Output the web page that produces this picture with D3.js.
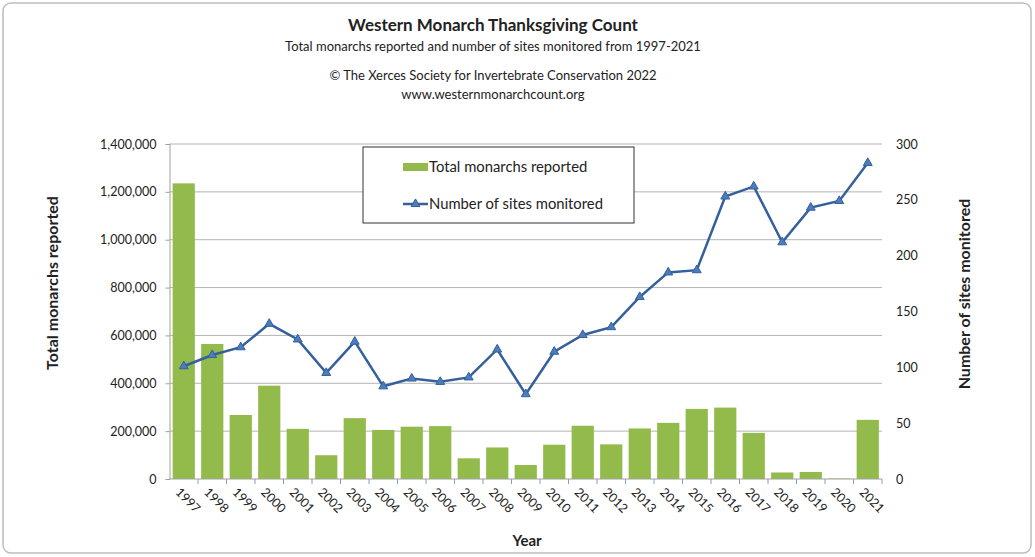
<!DOCTYPE html>
<html>
<head>
<meta charset="utf-8">
<script src="https://cdn.jsdelivr.net/npm/d3@7"></script>
<style>
  body { margin: 0; background: #fff; }
  svg text { font-family: Lato, "Open Sans", sans-serif; fill: #222; }
</style>
</head>
<body>
<svg width="1035" height="557"></svg>
<script>
var years = ['1997','1998','1999','2000','2001','2002','2003','2004','2005','2006','2007','2008','2009',
             '2010','2011','2012','2013','2014','2015','2016','2017','2018','2019','2020','2021'];
var monarchs = [1235490, 564349, 267574, 390057, 209570, 99353, 254378, 205085, 218679, 221058, 86437, 131889, 58468,
                143204, 222525, 144812, 211275, 234731, 292888, 298464, 192624, 27218, 29418, 1914, 247237];
var sites = [101, 111, 118, 139, 125, 95, 123, 83, 90, 87, 91, 116, 76,
             114, 129, 136, 163, 185, 187, 253, 262, 212, 243, 249, 283];
var leftTicks = [0, 200000, 400000, 600000, 800000, 1000000, 1200000, 1400000];
var rightTicks = [0, 50, 100, 150, 200, 250, 300];

var svg = d3.select('svg');
var plot = { left: 169.5, right: 882, top: 144, bottom: 479 };

// outer frame
svg.append('rect')
  .attr('x', 3).attr('y', 3).attr('width', 1028).attr('height', 550)
  .attr('rx', 8).attr('fill', 'none').attr('stroke', '#bdbdbd').attr('stroke-width', 1.5);

var x = d3.scaleBand().domain(years).range([plot.left, plot.right]).paddingInner(0.22).paddingOuter(0.11);
var xb = d3.scaleBand().domain(years).range([plot.left, plot.right]);
var yL = d3.scaleLinear().domain([0, 1400000]).range([plot.bottom, plot.top]);
var yR = d3.scaleLinear().domain([0, 300]).range([plot.bottom, plot.top]);

// gridlines
svg.append('g').selectAll('line').data(leftTicks.slice(1)).join('line')
  .attr('x1', plot.left).attr('x2', plot.right)
  .attr('y1', d => yL(d)).attr('y2', d => yL(d))
  .attr('stroke', '#b4b4b4').attr('stroke-width', 1);

// left axis
var gl = svg.append('g').attr('transform', 'translate(' + plot.left + ',0)')
  .call(d3.axisLeft(yL).tickValues(leftTicks).tickSize(4).tickPadding(9).tickFormat(d3.format(',')));
gl.select('.domain').attr('stroke', '#a0a0a0');
gl.selectAll('.tick line').attr('stroke', '#a0a0a0');
gl.selectAll('text').style('font-size', '12.5px').attr('fill', '#333');

// right axis
var gr = svg.append('g').attr('transform', 'translate(' + plot.right + ',0)')
  .call(d3.axisRight(yR).tickValues(rightTicks).tickSize(0).tickPadding(14));
gr.select('.domain').remove();
gr.selectAll('text').style('font-size', '12.5px').attr('fill', '#333');

// bars
svg.append('g').selectAll('rect').data(years).join('rect')
  .attr('x', d => x(d))
  .attr('width', x.bandwidth())
  .attr('y', (d, i) => yL(monarchs[i]))
  .attr('height', (d, i) => plot.bottom - yL(monarchs[i]))
  .attr('fill', '#93bb4b');

// x axis
var gx = svg.append('g').attr('transform', 'translate(0,' + plot.bottom + ')');
gx.append('line').attr('x1', plot.left).attr('x2', plot.right).attr('stroke', '#a0a0a0');
gx.selectAll('line.tk').data(years).join('line').attr('class', 'tk')
  .attr('x1', d => xb(d) + xb.bandwidth()).attr('x2', d => xb(d) + xb.bandwidth())
  .attr('y1', 0).attr('y2', 5).attr('stroke', '#8c9bb8');
gx.selectAll('text').data(years).join('text')
  .attr('transform', d => 'translate(' + (xb(d) + xb.bandwidth() / 2 - 6) + ',11) rotate(45)')
  .attr('text-anchor', 'start')
  .attr('dy', '0.35em')
  .style('font-size', '12.5px')
  .text(d => d);

// line + markers
var line = d3.line().x((d, i) => xb(years[i]) + xb.bandwidth() / 2).y(d => yR(d));
svg.append('path').datum(sites)
  .attr('d', line).attr('fill', 'none').attr('stroke', '#35609c').attr('stroke-width', 2.5);
svg.append('g').selectAll('path').data(sites).join('path')
  .attr('transform', (d, i) => 'translate(' + (xb(years[i]) + xb.bandwidth() / 2) + ',' + yR(d) + ')')
  .attr('d', d3.symbol().type(d3.symbolTriangle).size(34))
  .attr('fill', '#4a7ebb').attr('stroke', '#35609c').attr('stroke-width', 1);

// legend
var lg = svg.append('g');
lg.append('rect').attr('x', 363).attr('y', 147).attr('width', 271).attr('height', 76)
  .attr('fill', '#fff').attr('stroke', '#333').attr('stroke-width', 1);
lg.append('rect').attr('x', 403).attr('y', 163).attr('width', 25).attr('height', 8).attr('fill', '#93bb4b');
lg.append('text').attr('x', 429).attr('y', 167).attr('dy', '0.35em').style('font-size', '14.8px').text('Total monarchs reported');
lg.append('line').attr('x1', 403).attr('x2', 428).attr('y1', 204).attr('y2', 204)
  .attr('stroke', '#35609c').attr('stroke-width', 2.5);
lg.append('path').attr('transform', 'translate(415.5,204)')
  .attr('d', d3.symbol().type(d3.symbolTriangle).size(34))
  .attr('fill', '#4a7ebb').attr('stroke', '#35609c');
lg.append('text').attr('x', 429).attr('y', 204).attr('dy', '0.35em').style('font-size', '14.8px').text('Number of sites monitored');

// titles
svg.append('text').attr('x', 493).attr('y', 31).attr('text-anchor', 'middle')
  .style('font-size', '17px').style('font-weight', 'bold').text('Western Monarch Thanksgiving Count');
svg.append('text').attr('x', 493).attr('y', 51).attr('text-anchor', 'middle')
  .style('font-size', '13px').text('Total monarchs reported and number of sites monitored from 1997-2021');
svg.append('text').attr('x', 493).attr('y', 80).attr('text-anchor', 'middle')
  .style('font-size', '13px').text('\u00A9 The Xerces Society for Invertebrate Conservation 2022');
svg.append('text').attr('x', 493).attr('y', 99).attr('text-anchor', 'middle')
  .style('font-size', '13px').text('www.westernmonarchcount.org');

svg.append('text').attr('transform', 'translate(58,283) rotate(-90)').attr('text-anchor', 'middle')
  .style('font-size', '16px').style('font-weight', 'bold').text('Total monarchs reported');
svg.append('text').attr('transform', 'translate(970,294) rotate(-90)').attr('text-anchor', 'middle')
  .style('font-size', '16px').style('font-weight', 'bold').text('Number of sites monitored');
svg.append('text').attr('x', 527).attr('y', 546).attr('text-anchor', 'middle')
  .style('font-size', '15px').style('font-weight', 'bold').text('Year');
</script>
</body>
</html>
